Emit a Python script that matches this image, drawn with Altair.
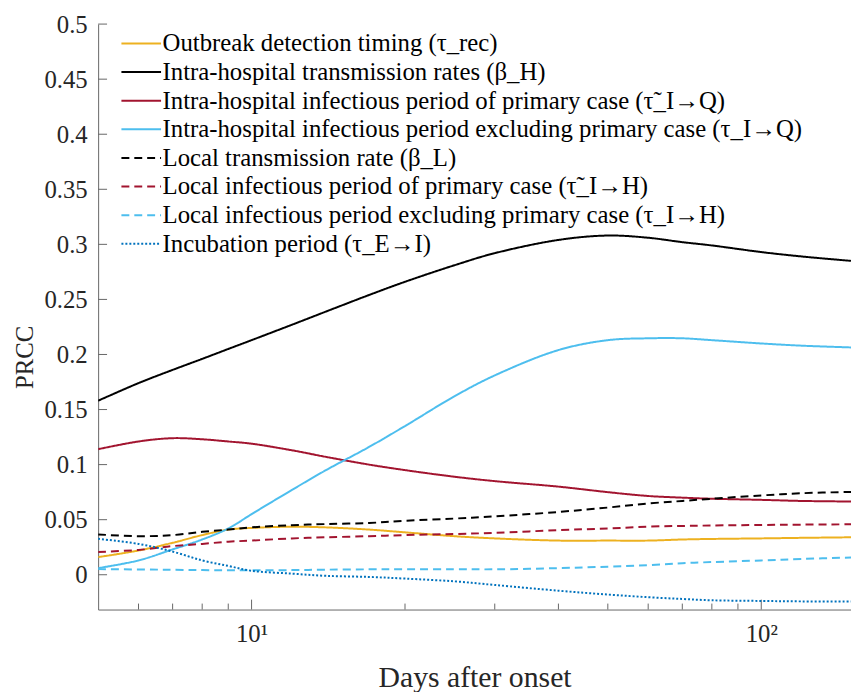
import altair as alt
import pandas as pd

days = [5, 6, 7, 8, 9, 10, 12, 14, 17, 20, 25, 30, 40, 50, 60, 70, 80, 100, 120, 150]

labels = [
    "Outbreak detection timing (τ_rec)",
    "Intra-hospital transmission rates (β_H)",
    "Intra-hospital infectious period of primary case (τ̃_I→Q)",
    "Intra-hospital infectious period excluding primary case (τ_I→Q)",
    "Local transmission rate (β_L)",
    "Local infectious period of primary case (τ̃_I→H)",
    "Local infectious period excluding primary case (τ_I→H)",
    "Incubation period (τ_E→I)",
]
colors = ["#EDB120", "#000000", "#A2142F", "#4DBEEE", "#000000", "#A2142F", "#4DBEEE", "#0072BD"]
dashes = [[1, 0], [1, 0], [1, 0], [1, 0], [8, 5], [8, 5], [8, 5], [2, 2]]

tau_rec = [0.016, 0.022, 0.029, 0.036, 0.041, 0.0425, 0.0436, 0.043, 0.041, 0.0385, 0.035, 0.033, 0.031, 0.031, 0.031, 0.032, 0.0325, 0.033, 0.0335, 0.034]
beta_H = [0.158, 0.174, 0.186, 0.196, 0.205, 0.213, 0.227, 0.239, 0.254, 0.266, 0.281, 0.292, 0.304, 0.308, 0.306, 0.302, 0.299, 0.293, 0.289, 0.285]
tau_IQ_primary = [0.114, 0.121, 0.124, 0.123, 0.121, 0.119, 0.113, 0.107, 0.100, 0.095, 0.089, 0.085, 0.080, 0.075, 0.0715, 0.070, 0.069, 0.068, 0.067, 0.0665]
tau_IQ = [0.006, 0.013, 0.023, 0.032, 0.042, 0.055, 0.077, 0.095, 0.116, 0.135, 0.162, 0.181, 0.204, 0.213, 0.2147, 0.2147, 0.213, 0.210, 0.208, 0.2064]
beta_L = [0.0366, 0.035, 0.036, 0.039, 0.041, 0.043, 0.045, 0.046, 0.047, 0.049, 0.051, 0.053, 0.057, 0.061, 0.0647, 0.067, 0.069, 0.072, 0.074, 0.0752]
tau_IH_primary = [0.0207, 0.0225, 0.026, 0.028, 0.030, 0.031, 0.033, 0.034, 0.035, 0.036, 0.037, 0.038, 0.0405, 0.042, 0.0437, 0.0443, 0.0447, 0.0452, 0.0455, 0.0458]
tau_IH = [0.0051, 0.0048, 0.0045, 0.0042, 0.004, 0.004, 0.0042, 0.0046, 0.0049, 0.005, 0.005, 0.0049, 0.006, 0.0073, 0.0087, 0.0105, 0.0115, 0.013, 0.0143, 0.0156]
tau_EI = [0.0326, 0.028, 0.021, 0.013, 0.008, 0.0036, 0.001, -0.001, -0.002, -0.0035, -0.006, -0.0093, -0.0145, -0.018, -0.0204, -0.022, -0.0232, -0.0238, -0.0242, -0.0243]

series = [tau_rec, beta_H, tau_IQ_primary, tau_IQ, beta_L, tau_IH_primary, tau_IH, tau_EI]

major_x = [10, 100]
minor_x = [6, 7, 8, 9, 20, 30, 40, 50, 60, 70, 80, 90]
y_ticks = [0, 0.05, 0.1, 0.15, 0.2, 0.25, 0.3, 0.35, 0.4, 0.45, 0.5]

rows = []
for lab, vals in zip(labels, series):
    for d, v in zip(days, vals):
        rows.append({"d": d, "v": v, "series": lab})
df = pd.DataFrame(rows)

FONT = "Liberation Serif"
W, H = 760, 591
AX = "#666666"

xscale = alt.Scale(type="log", domain=[5, 150], nice=False)
yscale = alt.Scale(domain=[-0.0316, 0.5], nice=False, zero=False)

legend = alt.Legend(
    title=None, orient="none", legendX=31, legendY=7,
    symbolType="M-2,0L2,0", symbolSize=400, symbolStrokeWidth=2,
    labelFont=FONT, labelFontSize=25, labelColor="#000000",
    rowPadding=2.9, labelLimit=800, labelOffset=9,
)

lines = alt.Chart(df).mark_line(strokeWidth=2, interpolate="catmull-rom", clip=True).encode(
    x=alt.X("d:Q", scale=xscale, title="Days after onset",
            axis=alt.Axis(values=major_x, labelExpr="datum.value == 10 ? '10¹' : '10²'",
                          tickSize=0, labelPadding=12, grid=False, domainColor=AX,
                          labelFont=FONT, labelFontSize=25, labelColor="#262626",
                          titleFont=FONT, titleFontSize=30, titleFontWeight="normal", titleColor="#262626",
                          titleX=380, titleY=54, titleBaseline="top")),
    y=alt.Y("v:Q", scale=yscale, title="PRCC",
            axis=alt.Axis(values=y_ticks, format="~g", tickSize=0, labelPadding=11, grid=False,
                          domainColor=AX, labelFont=FONT, labelFontSize=25, labelColor="#262626",
                          titleFont=FONT, titleFontSize=25, titleFontWeight="normal", titleColor="#262626",
                          titleX=-61, titleY=336, titleAngle=-90, titleBaseline="bottom")),
    color=alt.Color("series:N", scale=alt.Scale(domain=labels, range=colors), sort=labels, legend=legend),
    strokeDash=alt.StrokeDash("series:N", scale=alt.Scale(domain=labels, range=dashes), sort=labels, legend=legend),
    order=alt.Order("series:N"),
)

major_df = pd.DataFrame({"d": major_x})
minor_df = pd.DataFrame({"d": minor_x})
ytick_df = pd.DataFrame({"v": y_ticks})

major_ticks = alt.Chart(major_df).mark_rule(color=AX, strokeWidth=1).encode(
    x=alt.X("d:Q", scale=xscale), y=alt.value(H), y2=alt.value(H - 10))
minor_ticks = alt.Chart(minor_df).mark_rule(color=AX, strokeWidth=1).encode(
    x=alt.X("d:Q", scale=xscale), y=alt.value(H), y2=alt.value(H - 6))
y_tick_marks = alt.Chart(ytick_df).mark_rule(color=AX, strokeWidth=1).encode(
    y=alt.Y("v:Q", scale=yscale), x=alt.value(0), x2=alt.value(9))

chart = alt.layer(major_ticks, minor_ticks, y_tick_marks, lines).properties(
    width=W, height=H,
    autosize=alt.AutoSizeParams(type="none"),
    padding={"left": 91, "top": 13, "right": 0, "bottom": 80},
).configure(background="white", font=FONT).configure_view(stroke=None).configure_legend(
    labelFont=FONT, labelFontSize=25, labelColor="#000000"
)

chart.save("out.html", embed_options={"renderer": "svg", "actions": False})
